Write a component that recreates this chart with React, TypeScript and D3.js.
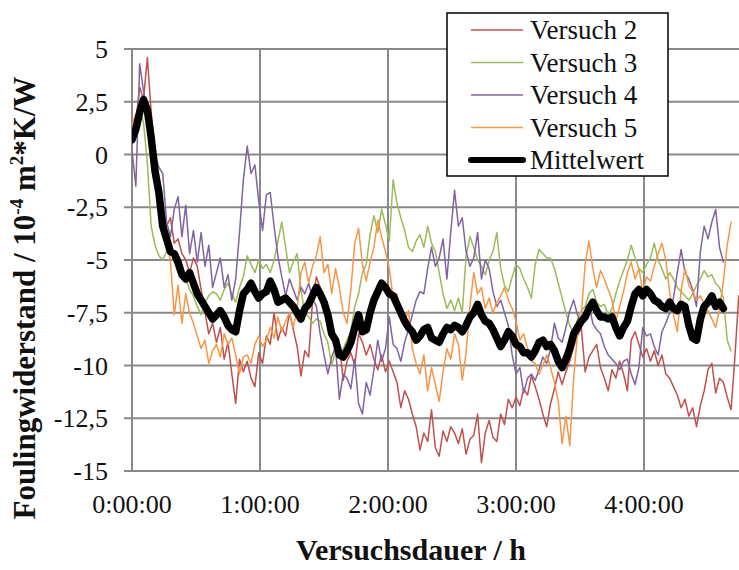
import React from 'react';
import * as d3 from 'd3';

// Sampling interval of all measured series, in hours
const STEP_H = 0.03;
const X_MAX_H = 4.742;

const Y_TICKS = [5, 2.5, 0, -2.5, -5, -7.5, -10, -12.5, -15];
const X_TICKS = [0, 1, 2, 3, 4];

// Fouling resistance, 10^-4 m²K/W
const versuch2 = [
  0.5, 1.6, 3.2, 2.6, 4.6, 2.0, -0.1, -1.6, -2.5, -3.4,
  -3.0, -4.2, -4.0, -4.7, -5.0, -5.6, -4.9, -5.3, -6.4, -7.5,
  -8.5, -8.0, -8.9, -8.2, -9.7, -8.9, -10.4, -11.8, -9.7, -10.3,
  -9.8, -10.6, -11.0, -9.4, -9.9, -8.6, -9.0, -7.5, -8.8, -8.2,
  -8.6, -7.5, -8.3, -9.1, -10.5, -9.3, -9.6, -7.0, -5.8, -6.3,
  -6.9, -8.0, -8.6, -9.2, -9.0, -10.7, -9.8, -9.4, -10.0, -8.5,
  -8.9, -9.5, -9.0, -9.7, -10.2, -9.5, -10.3, -9.8, -10.3, -10.8,
  -12.0, -11.2, -11.6, -12.3, -12.9, -14.0, -13.2, -13.6, -12.1, -13.9,
  -14.3, -13.1, -13.6, -12.9, -13.2, -13.7, -13.0, -14.2, -13.5, -13.3,
  -12.3, -14.6, -13.2, -12.6, -13.4, -13.6, -12.3, -12.8, -11.6, -12.0,
  -11.5, -11.9, -11.1, -11.4, -10.5, -11.0, -11.6, -12.3, -12.9, -11.8,
  -11.1, -10.3, -10.9, -10.3, -9.8, -9.1, -8.6, -8.2, -10.3, -9.6,
  -9.3, -9.0, -10.1, -10.6, -11.2, -10.2, -10.6, -9.8, -10.4, -11.2,
  -8.8, -8.4, -9.0, -9.6, -9.2, -9.8, -9.3, -10.0, -9.5, -10.4,
  -10.6, -11.0, -11.4, -12.0, -11.6, -12.4, -12.0, -12.9, -11.9, -11.2,
  -10.2, -9.9, -11.3, -10.6, -10.8, -11.5, -12.1, -9.6, -6.7,
];

const versuch3 = [
  1.2, 1.6, 2.3, 1.5, -0.4, -3.4, -4.3, -4.8, -5.0, -4.6,
  -4.3, -5.1, -5.6, -5.3, -5.9, -6.4, -6.7, -7.2, -7.6, -7.0,
  -6.7, -6.5, -6.6, -6.9, -6.4, -6.1, -6.6, -7.0, -6.3, -5.8,
  -4.8, -5.2, -5.6, -5.0, -5.4, -5.2, -5.6, -5.0, -4.1, -3.2,
  -4.4, -5.6, -5.1, -4.7, -6.4, -7.5, -7.7, -8.0, -7.8, -7.9,
  -8.5, -8.9, -10.0, -9.3, -9.6, -9.2, -8.8, -8.4, -7.2, -6.6,
  -5.6, -5.2, -3.8, -2.9, -3.7, -2.6, -3.3, -4.1, -1.2, -2.3,
  -3.0, -3.6, -4.4, -4.6, -4.1, -3.8, -4.4, -3.4, -4.2, -4.6,
  -5.6, -6.6, -7.3, -6.9, -7.4, -6.8, -7.5, -4.8, -3.9, -4.4,
  -5.0, -5.3, -5.7, -5.0, -4.6, -3.7, -5.4, -6.2, -6.5, -5.8,
  -5.2, -5.4, -5.9, -6.3, -6.8, -5.2, -4.5, -4.7, -4.9, -4.9,
  -5.4, -6.1, -6.8, -7.5, -8.1, -8.5, -7.8, -7.4, -7.2, -6.6,
  -6.4, -7.0, -7.2, -7.1, -7.6, -7.3, -6.6, -6.0, -5.5, -5.0,
  -4.3, -4.9, -5.4, -5.6, -5.2, -4.9, -4.2, -5.0, -5.4, -5.9,
  -5.6, -5.9, -6.3, -6.5, -6.7, -6.9, -6.6, -6.2, -5.9, -5.5,
  -5.8, -5.7, -6.1, -6.3, -6.8, -8.8, -9.3,
];

const versuch4 = [
  0.2, -1.5, 4.3, 3.0, 2.0, 0.9, 0.0, -0.6, -0.9, -3.2,
  -3.9, -2.6, -2.0, -3.9, -2.4, -4.7, -3.6, -5.1, -3.7, -5.3,
  -4.3, -6.3, -5.6, -4.9, -6.3, -5.7, -6.9, -5.9, -3.7, -1.2,
  0.4, -0.9, -0.5, -2.2, -3.6, -1.9, -1.8, -3.4, -4.8, -5.8,
  -6.7, -5.9, -6.4, -6.9, -6.3, -6.6, -6.1, -6.8, -7.2, -8.5,
  -9.5, -10.4, -9.6, -9.1, -11.6, -10.4, -10.6, -11.1, -9.7, -11.8,
  -12.3, -10.8, -11.4, -10.2, -8.8, -9.8, -9.2, -7.7, -9.0, -9.2,
  -9.8, -8.9, -8.3, -7.6, -6.9, -6.5, -6.6, -5.4, -4.4, -5.3,
  -4.9, -4.0, -5.9, -3.7, -1.7, -3.4, -3.0, -4.6, -5.3, -4.9,
  -3.7, -5.9, -5.0, -5.4, -6.5, -7.2, -6.9, -7.5, -8.1, -9.5,
  -10.4, -10.1, -11.3, -10.6, -10.4, -10.7, -10.2, -9.6, -9.9, -9.2,
  -8.0, -8.7, -8.9, -8.2, -7.4, -6.9, -7.6, -8.0, -7.5, -7.1,
  -8.0, -8.3, -8.5, -9.1, -9.5, -9.7, -9.9, -10.2, -9.8, -9.7,
  -10.4, -10.9, -10.1, -8.2, -8.6, -8.5, -9.1, -9.5, -8.4, -8.0,
  -7.5, -6.8, -5.6, -4.5, -5.6, -5.9, -6.4, -7.2, -4.6, -3.4,
  -4.0, -3.2, -2.6, -4.4, -5.1,
];

const versuch5 = [
  1.4, 1.9, 1.6, 2.3, 1.8, 1.0, 0.2, -1.0, -2.3, -4.3,
  -5.0, -7.6, -6.2, -8.0, -6.6, -7.5, -8.0, -8.6, -9.2, -8.8,
  -9.9, -9.3, -9.0, -9.6, -8.5, -9.0, -8.7, -9.5, -10.4, -9.6,
  -9.5, -9.9, -9.0, -8.6, -9.1, -8.8, -8.2, -8.7, -7.7, -8.4,
  -7.9, -7.5, -8.2, -7.3, -5.6, -5.1, -6.1, -5.3, -4.8, -3.9,
  -5.6, -5.2, -6.6, -5.4, -6.3, -7.5, -8.0, -6.4, -4.2, -3.5,
  -5.2, -6.0, -5.1, -4.4, -3.1, -3.9, -4.6, -5.4, -6.8, -6.6,
  -7.4, -7.9, -7.4, -9.2, -9.9, -10.4, -9.5, -11.2, -10.1, -10.9,
  -11.7, -10.3, -9.2, -9.7, -8.5, -9.0, -10.7, -9.4, -7.2, -5.6,
  -6.6, -6.3, -7.3, -6.8, -7.5, -7.0, -6.7, -6.3, -6.9, -7.3,
  -7.9, -8.8, -8.5, -9.2, -9.8, -9.9, -10.4, -10.0, -9.5, -10.1,
  -10.8, -11.7, -13.7, -12.4, -13.8, -10.6, -8.5, -7.6, -5.2, -4.1,
  -5.4, -6.3, -5.5, -5.9, -6.4, -6.9, -7.9, -7.2, -6.5, -5.6,
  -5.1, -5.9, -5.4, -6.5, -5.8, -6.0, -5.3, -4.7, -4.2, -5.0,
  -6.5, -7.6, -8.4, -6.4, -5.4, -6.2, -6.5, -6.9, -6.7, -7.1,
  -7.4, -7.8, -8.2, -7.3, -6.0, -4.3, -3.2,
];

const mittelwert = [
  0.7, 1.2, 2.0, 2.6, 2.1, 0.8, -0.8, -1.8, -3.4, -4.0,
  -4.6, -4.7, -5.1, -5.7, -5.9, -5.6, -6.1, -6.6, -6.9, -7.2,
  -7.5, -7.8, -7.6, -7.4, -7.7, -8.1, -8.3, -8.4, -7.4, -6.6,
  -6.4, -6.1, -6.5, -6.8, -6.6, -6.5, -6.0, -6.4, -7.0, -6.9,
  -6.8, -7.0, -7.2, -7.5, -7.8, -7.3, -7.1, -6.7, -6.3, -6.6,
  -7.0, -7.6, -8.5, -8.8, -9.5, -9.6, -9.3, -8.9, -8.2, -7.6,
  -8.4, -8.3, -7.5, -6.9, -6.5, -6.1, -6.3, -6.6, -6.7, -7.1,
  -7.5, -7.9, -8.2, -8.4, -8.8, -8.6, -8.3, -8.2, -8.7, -8.8,
  -8.9, -8.5, -8.2, -8.3, -8.1, -8.2, -8.4, -8.1, -7.7, -7.5,
  -7.1, -7.6, -7.9, -8.0, -8.3, -8.7, -9.1, -8.8, -8.4, -8.6,
  -9.0, -9.1, -9.4, -9.4, -9.6, -9.3, -8.9, -8.8, -9.1, -9.0,
  -9.3, -9.8, -10.1, -9.7, -9.2, -8.5, -8.2, -7.9, -7.7, -7.3,
  -7.0, -7.4, -7.7, -7.7, -7.8, -7.7, -8.2, -8.6, -8.2, -7.9,
  -7.2, -6.6, -6.4, -6.7, -6.4, -6.6, -6.9, -7.0, -7.2, -7.3,
  -7.0, -7.3, -7.4, -7.1, -7.2, -8.1, -8.7, -8.8, -7.8, -7.2,
  -7.0, -6.7, -7.2, -7.0, -7.3,
];

const SERIES = [
  { name: 'Versuch 2', values: versuch2, color: '#C0504D', width: 1.5 },
  { name: 'Versuch 3', values: versuch3, color: '#9BBB59', width: 1.5 },
  { name: 'Versuch 4', values: versuch4, color: '#8064A2', width: 1.5 },
  { name: 'Versuch 5', values: versuch5, color: '#F79646', width: 1.5 },
  { name: 'Mittelwert', values: mittelwert, color: '#000000', width: 7.5 },
];

const W = 739;
const H = 570;
const PLOT = { left: 132, right: 739, top: 49, bottom: 471 };
const GRID = '#898989';
const FONT = '"Liberation Serif", "Times New Roman", serif';

const fmtY = (v: number) => String(v).replace('.', ',');
const fmtX = (h: number) => `${h}:00:00`;

export default function App() {
  const x = d3.scaleLinear().domain([0, X_MAX_H]).range([PLOT.left, PLOT.right]);
  const y = d3.scaleLinear().domain([-15, 5]).range([PLOT.bottom, PLOT.top]);

  const path = d3
    .line<number>()
    .x((_, i) => x(i * STEP_H))
    .y((d) => y(d));

  const legend = { x: 447, y: 13, w: 221, h: 163, rowY0: 30, rowDy: 32.5 };

  return (
    <svg
      width={W}
      height={H}
      viewBox={`0 0 ${W} ${H}`}
      style={{ position: 'absolute', left: 0, top: 0, background: '#fff' }}
      fontFamily={FONT}
    >
      <defs>
        <clipPath id="plot-clip">
          <rect x={PLOT.left} y={PLOT.top - 10} width={PLOT.right - PLOT.left} height={PLOT.bottom - PLOT.top + 10} />
        </clipPath>
      </defs>

      {/* horizontal grid with short ticks left of the axis */}
      {Y_TICKS.map((v) => (
        <line key={`gy${v}`} x1={PLOT.left - 8} x2={PLOT.right} y1={y(v)} y2={y(v)} stroke={GRID} strokeWidth={2} />
      ))}
      {/* vertical grid and value axis */}
      {X_TICKS.map((h) => (
        <line key={`gx${h}`} x1={x(h)} x2={x(h)} y1={PLOT.top} y2={PLOT.bottom} stroke={GRID} strokeWidth={2} />
      ))}

      {/* y tick labels */}
      {Y_TICKS.map((v) => (
        <text key={`ty${v}`} x={108} y={y(v) + 9} textAnchor="end" fontSize={26} fill="#111">
          {fmtY(v)}
        </text>
      ))}
      {/* x tick labels */}
      {X_TICKS.map((h) => (
        <text key={`tx${h}`} x={x(h)} y={513} textAnchor="middle" fontSize={26} fill="#111">
          {fmtX(h)}
        </text>
      ))}

      {/* series */}
      <g clipPath="url(#plot-clip)">
        {SERIES.map((s) => (
          <path
            key={s.name}
            d={path(s.values) ?? ''}
            fill="none"
            stroke={s.color}
            strokeWidth={s.width}
            strokeLinejoin="round"
            strokeLinecap="round"
          />
        ))}
      </g>

      {/* legend */}
      <rect x={legend.x} y={legend.y} width={legend.w} height={legend.h} fill="#fff" stroke="#000" strokeWidth={1.5} />
      {SERIES.map((s, i) => {
        const ly = legend.rowY0 + i * legend.rowDy;
        const isMean = s.name === 'Mittelwert';
        return (
          <g key={`lg${s.name}`}>
            <line
              x1={471}
              x2={523}
              y1={ly}
              y2={ly}
              stroke={s.color}
              strokeWidth={isMean ? 6 : 1.5}
              strokeLinecap={isMean ? 'round' : 'butt'}
            />
            <text x={530} y={ly + 9} fontSize={27} fill="#111">
              {s.name}
            </text>
          </g>
        );
      })}

      {/* axis titles */}
      <text x={411} y={560} textAnchor="middle" fontSize={30} fontWeight="bold" fill="#111">
        Versuchsdauer / h
      </text>
      <text
        transform="translate(35,298) rotate(-90)"
        textAnchor="middle"
        fontSize={31}
        fontWeight="bold"
        fill="#111"
      >
        Foulingwiderstand / 10
        <tspan fontSize={19} dy={-12}>-4</tspan>
        <tspan dy={12}> m</tspan>
        <tspan fontSize={19} dy={-12}>2</tspan>
        <tspan dy={12}>*K/W</tspan>
      </text>
    </svg>
  );
}
